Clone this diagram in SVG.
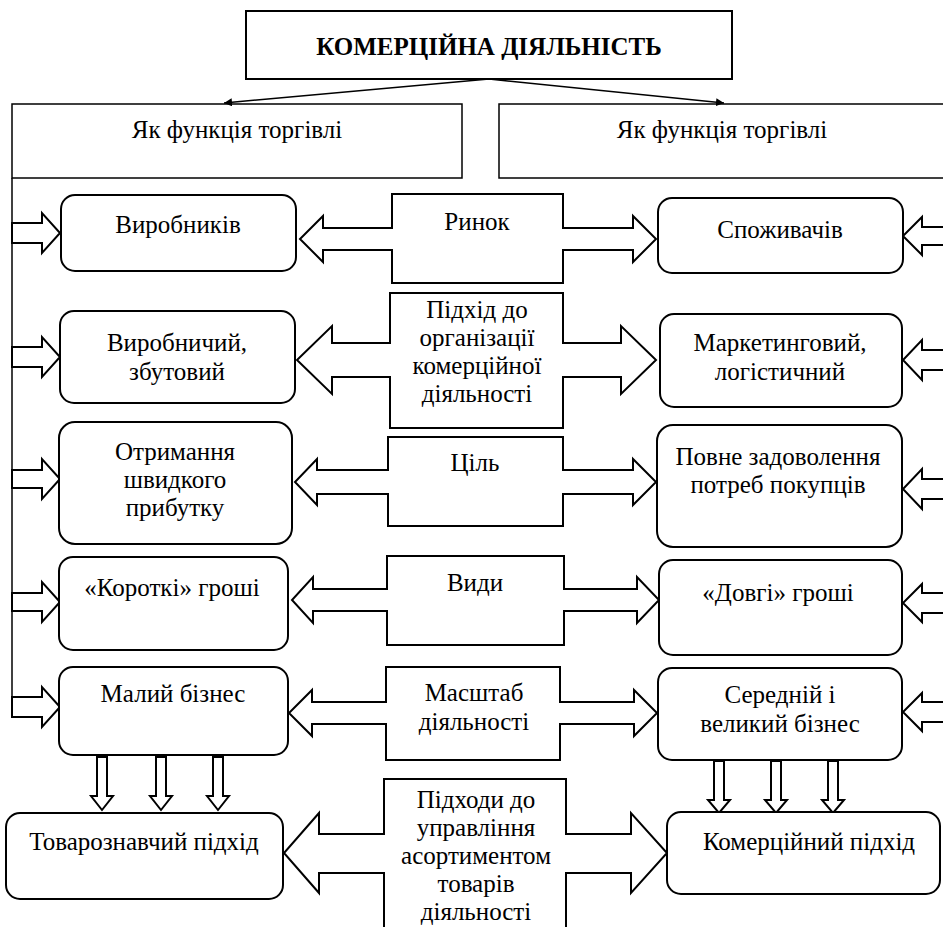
<svg xmlns="http://www.w3.org/2000/svg" width="943" height="927" viewBox="0 0 943 927">
<style>
text{font-family:'Liberation Serif','DejaVu Serif',serif;font-size:25px;fill:#000;text-anchor:middle}
.b{font-weight:bold}
.box{fill:#fff;stroke:#000;stroke-width:2}
.thin{fill:#fff;stroke:#000;stroke-width:1.5}
.arr{fill:#fff;stroke:#000;stroke-width:2;stroke-linejoin:miter}
.ln{fill:none;stroke:#000;stroke-width:1.5}
</style>
<defs>
<marker id="ah" viewBox="0 0 10 10" refX="10" refY="5" markerWidth="8" markerHeight="8" orient="auto" markerUnits="userSpaceOnUse">
<path d="M0,0 L10,5 L0,10 z" fill="#000"/>
</marker>
</defs>
<rect width="943" height="927" fill="#fff"/>

<g id="title"><rect class="box" x="246" y="11" width="486" height="68"/><text class="b" x="489" y="55">КОМЕРЦІЙНА ДІЯЛЬНІСТЬ</text></g>
<g id="func-left"><rect class="thin" x="12" y="104" width="450" height="74"/><text x="237" y="138">Як функція торгівлі</text></g>
<g id="func-right"><rect class="thin" x="499" y="104" width="450" height="74"/><text x="722" y="138">Як функція торгівлі</text></g>

<g id="connectors">
<line class="ln" x1="489" y1="79" x2="224" y2="103" marker-end="url(#ah)"/>
<line class="ln" x1="489" y1="79" x2="724" y2="103" marker-end="url(#ah)"/>
<line class="ln" x1="12" y1="178" x2="12" y2="718"/>
<polygon class="arr" points="12,223 42,223 42,213 60,233 42,253 42,243 12,243"/>
<polygon class="arr" points="12,347 42,347 42,337 60,357 42,377 42,367 12,367"/>
<polygon class="arr" points="12,470 42,470 42,459 60,479 42,499 42,488 12,488"/>
<polygon class="arr" points="12,593 42,593 42,582 60,602 42,622 42,611 12,611"/>
<polygon class="arr" points="12,697 42,697 42,687 60,707 42,727 42,717 12,717"/>
<polygon class="arr" points="945,227 922,227 922,217 903,236 922,255 922,245 945,245"/>
<polygon class="arr" points="945,350 922,350 922,340 903,360 922,380 922,370 945,370"/>
<polygon class="arr" points="945,479 922,479 922,469 903,489 922,509 922,499 945,499"/>
<polygon class="arr" points="945,593 922,593 922,584 903,603 922,622 922,613 945,613"/>
<polygon class="arr" points="945,702 922,702 922,693 903,712 922,731 922,722 945,722"/>
<polygon class="arr" points="97,757 107,757 107,796 113,796 102,810 91,796 97,796"/>
<polygon class="arr" points="156,757 166,757 166,796 172,796 161,810 150,796 156,796"/>
<polygon class="arr" points="213,757 223,757 223,796 229,796 218,810 207,796 213,796"/>
<polygon class="arr" points="714,761 724,761 724,800 730,800 719,813 708,800 714,800"/>
<polygon class="arr" points="771,761 781,761 781,800 787,800 776,813 765,800 771,800"/>
<polygon class="arr" points="828,761 838,761 838,800 844,800 833,813 822,800 828,800"/>
</g>

<g id="market"><polygon class="arr" points="392,194 563,194 563,228 633,228 633,216 656,239 633,262 633,250 563,250 563,283 392,283 392,250 323,250 323,262 300,239 323,216 323,228 392,228"/><text x="477" y="230">Ринок</text></g>
<g id="approach"><polygon class="arr" points="390,293 563,293 563,343 621,343 621,326 656,360 621,394 621,377 563,377 563,428 390,428 390,377 332,377 332,394 297,360 332,326 332,343 390,343"/><text x="477" y="318">Підхід до</text><text x="477" y="346">організації</text><text x="477" y="374">комерційної</text><text x="477" y="402">діяльності</text></g>
<g id="goal"><polygon class="arr" points="388,437 563,437 563,470 633,470 633,459 656,482 633,505 633,494 563,494 563,526 388,526 388,494 317,494 317,505 295,482 317,459 317,470 388,470"/><text x="475" y="471">Ціль</text></g>
<g id="kinds"><polygon class="arr" points="387,556 564,556 564,589 637,589 637,577 659,600 637,623 637,611 564,611 564,645 387,645 387,611 313,611 313,623 292,600 313,577 313,589 387,589"/><text x="475" y="591">Види</text></g>
<g id="scale"><polygon class="arr" points="386,667 560,667 560,702 634,702 634,690 657,713 634,736 634,724 560,724 560,760 386,760 386,724 312,724 312,736 289,713 312,690 312,702 386,702"/><text x="474" y="701">Масштаб</text><text x="474" y="730">діяльності</text></g>
<g id="assort"><polygon class="arr" points="384,779 566,779 566,834 631,834 631,813 667,853 631,893 631,873 566,873 566,940 384,940 384,873 319,873 319,893 284,853 319,813 319,834 384,834"/><text x="476" y="808">Підходи до</text><text x="476" y="836">управління</text><text x="476" y="864">асортиментом</text><text x="476" y="892">товарів</text><text x="476" y="920">діяльності</text></g>

<g id="producers"><rect class="box" x="61" y="195" width="235" height="76" rx="14"/><text x="178" y="233">Виробників</text></g>
<g id="production"><rect class="box" x="60" y="311" width="235" height="92" rx="14"/><text x="177" y="351">Виробничий,</text><text x="177" y="380">збутовий</text></g>
<g id="profit"><rect class="box" x="59" y="422" width="233" height="122" rx="16"/><text x="175" y="460">Отримання</text><text x="175" y="488">швидкого</text><text x="175" y="516">прибутку</text></g>
<g id="short"><rect class="box" x="59" y="557" width="229" height="93" rx="14"/><text x="172" y="596">«Короткі» гроші</text></g>
<g id="small"><rect class="box" x="59" y="667" width="229" height="88" rx="14"/><text x="173" y="702">Малий бізнес</text></g>
<g id="commodity"><rect class="box" x="6" y="813" width="277" height="86" rx="14"/><text x="144" y="850">Товарознавчий підхід</text></g>

<g id="consumers"><rect class="box" x="658" y="198" width="245" height="75" rx="14"/><text x="780" y="238">Споживачів</text></g>
<g id="marketing"><rect class="box" x="660" y="314" width="242" height="93" rx="14"/><text x="780" y="351">Маркетинговий,</text><text x="780" y="380">логістичний</text></g>
<g id="satisfaction"><rect class="box" x="657" y="425" width="245" height="122" rx="16"/><text x="778" y="465">Повне задоволення</text><text x="778" y="493">потреб покупців</text></g>
<g id="long"><rect class="box" x="659" y="560" width="243" height="95" rx="14"/><text x="778" y="601">«Довгі» гроші</text></g>
<g id="big"><rect class="box" x="658" y="668" width="244" height="92" rx="14"/><text x="780" y="703">Середній і</text><text x="780" y="732">великий бізнес</text></g>
<g id="commercial"><rect class="box" x="667" y="812" width="273" height="82" rx="14"/><text x="809" y="850">Комерційний підхід</text></g>
</svg>
